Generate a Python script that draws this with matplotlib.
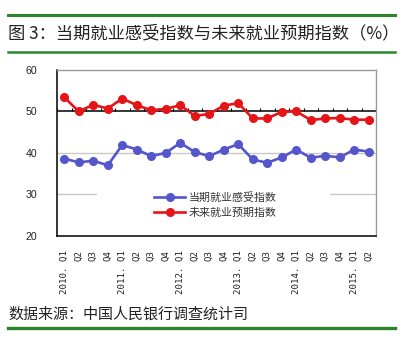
import numpy as np
import matplotlib
matplotlib.use('Agg')
import matplotlib.pyplot as plt
from matplotlib.lines import Line2D
from matplotlib.patches import Rectangle

plt.rcParams['font.family'] = ['Noto Sans CJK SC', 'DejaVu Sans']

# quarterly survey indices, 2010 Q1 - 2015 Q2
quarters = ['2010. Q1', 'Q2', 'Q3', 'Q4',
            '2011. Q1', 'Q2', 'Q3', 'Q4',
            '2012. Q1', 'Q2', 'Q3', 'Q4',
            '2013. Q1', 'Q2', 'Q3', 'Q4',
            '2014. Q1', 'Q2', 'Q3', 'Q4',
            '2015. Q1', 'Q2']
current_idx = [38.6, 37.7, 38.1, 37.0, 41.9, 40.8, 39.2, 40.0, 42.4, 40.2, 39.2,
               40.8, 42.1, 38.4, 37.6, 38.9, 40.8, 38.8, 39.3, 38.9, 40.8, 40.3]
future_idx = [53.4, 50.0, 51.6, 50.7, 53.1, 51.5, 50.3, 50.6, 51.5, 48.9, 49.4,
              51.4, 52.0, 48.3, 48.3, 49.9, 50.0, 47.9, 48.3, 48.4, 48.0, 48.0]
yticks = [20, 30, 40, 50, 60]

title = '图 3：当期就业感受指数与未来就业预期指数（%）'
source = '数据来源：中国人民银行调查统计司'
green = '#2a862a'

fig = plt.figure(figsize=(4.17, 3.5), dpi=100)
ax = fig.add_axes([0.1367, 0.3266, 0.765, 0.4734])

x = np.arange(len(quarters))
ax.set_xlim(-0.5, len(quarters) - 0.5)
ax.set_ylim(20, 60)

# gridlines and the category axis crossing at 50
for v in [30, 40]:
    ax.axhline(v, color='#c8c8c8', lw=1, zorder=1)
ax.axhline(50, color='black', lw=1.1, zorder=2)
ax.vlines(np.arange(-0.5, len(quarters)), 50, 50.9, color='black', lw=0.8, zorder=2)

ax.plot(x, current_idx, color='#5555cc', lw=1.9, marker='o', ms=5.5,
        label='当期就业感受指数', zorder=4)
ax.plot(x, future_idx, color='#e51419', lw=1.9, marker='o', ms=5.5,
        label='未来就业预期指数', zorder=4)

# white legend area over the 30 gridline
ax.add_patch(Rectangle((0.125, 0.08), 0.73, 0.215, transform=ax.transAxes,
                       facecolor='white', edgecolor='none', zorder=3))
leg = ax.legend(loc='center left', bbox_to_anchor=(0.305, 0.185), frameon=False,
                fontsize=7.9, handlelength=2.8, handletextpad=0.35,
                labelspacing=0.45, borderpad=0, borderaxespad=0)
for t in leg.get_texts():
    t.set_color('#333333')
leg.set_zorder(5)

ax.set_xticks(x)
ax.set_xticklabels(quarters, rotation=90, fontsize=6.6, color='#222222',
                   family='DejaVu Sans Mono')
ax.set_yticks(yticks)
ax.set_yticklabels([str(v) for v in yticks], fontsize=7.6, color='#222222',
                   family='Liberation Sans')
ax.tick_params(axis='x', length=0, pad=10)
ax.tick_params(axis='y', length=0, pad=14)

for side in ['top', 'right']:
    ax.spines[side].set_color('#9a9a9a')
    ax.spines[side].set_linewidth(1)
for side in ['left', 'bottom']:
    ax.spines[side].set_color('black')
    ax.spines[side].set_linewidth(1.1)

# page header / footer rules and text
for yy, lw in [(0.957, 2.2), (0.851, 1.8), (0.064, 2.4)]:
    fig.add_artist(Line2D([0.019, 0.947], [yy, yy], color=green, lw=lw))
fig.text(0.019, 0.906, title, fontsize=12.4, color='#222222', va='center', ha='left')
fig.text(0.019, 0.1, source, fontsize=10.8, color='#222222', va='center', ha='left')

fig.savefig('out.png', dpi=100)
